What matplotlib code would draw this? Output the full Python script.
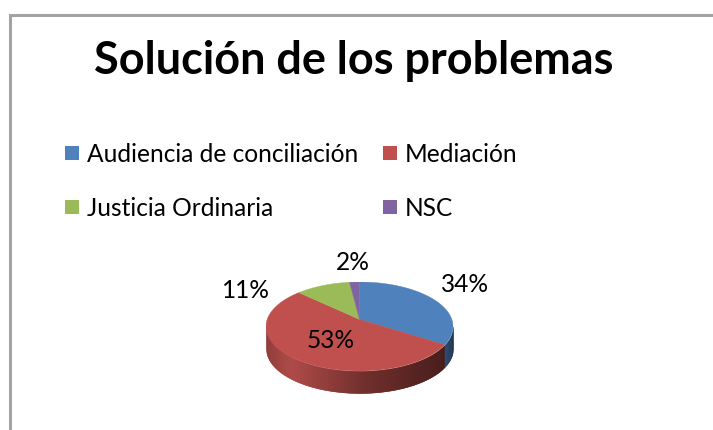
import numpy as np
import matplotlib
matplotlib.use('Agg')
import matplotlib.pyplot as plt
from matplotlib.patches import Rectangle
from matplotlib.colors import LinearSegmentedColormap

categories = ['Audiencia de conciliación', 'Mediación', 'Justicia Ordinaria', 'NSC']
values = [34, 53, 11, 2]
pct_labels = ['34%', '53%', '11%', '2%']
colors = ['#4f81bd', '#c0504d', '#9bbb59', '#8064a2']
title = 'Solución de los problemas'

W, H = 713, 430
plt.rcParams['font.family'] = ['Lato', 'DejaVu Sans']
fig = plt.figure(figsize=(W / 100, H / 100), dpi=100, facecolor='white')

# background layer in pixel coords, y goes down like in the picture
bg = fig.add_axes([0, 0, 1, 1])
bg.set_xlim(0, W)
bg.set_ylim(H, 0)
bg.axis('off')
bg.plot([9.5, 9.5, W], [H, 15, 15], color='#a3a3a3', lw=2.2, solid_joinstyle='miter')
bg.text(354, 60.5, title, fontsize=32.4, fontweight='bold', ha='center', va='center', color='black')

legend_pos = [(65, 153), (383, 153), (65, 207), (383, 207)]
for name, col, (lx, ly) in zip(categories, colors, legend_pos):
    bg.add_patch(Rectangle((lx, ly - 7), 14, 14, color=col, lw=0))
    bg.text(lx + 22, ly + 1.5, name, fontsize=17.65, ha='left', va='center', color='black')

# pie axes: unit circle squashed to the ellipse on the page
cx, cy, rx, ry = 359.5, 326.5, 93.5, 44.5
depth = 22 / ry
tilt = 0.16  # perspective, pushes the centre of the pie up


def persp(x, y):
    return x * np.sqrt(1 - tilt ** 2) / (1 + tilt * y), (y + tilt) / (1 + tilt * y)


ax = fig.add_axes([(cx - rx) / W, 1 - (cy + ry + 22) / H, 2 * rx / W, (2 * ry + 22) / H])
wedges, _ = ax.pie(values, colors=colors, startangle=90, counterclock=False, radius=1,
                   wedgeprops={'lw': 0})
ax.set_aspect('auto')
ax.set_xlim(-1, 1)
ax.set_ylim(-1 - depth, 1)

# redraw the slices through the perspective
for w, col in zip(wedges, colors):
    w.set_visible(False)
    th = np.radians(np.linspace(w.theta1, w.theta2, 80))
    px, py = persp(np.r_[0, np.cos(th)], np.r_[0, np.sin(th)])
    ax.fill(px, py, color=col, lw=0.3, zorder=3)

# side wall of the 3d pie, strips shaded left to right
red_side = LinearSegmentedColormap.from_list('r', [(0, '#8f3b39'), (0.14, '#ae4846'), (0.55, '#6e2c2a'), (1, '#451a18')])
blue_side = LinearSegmentedColormap.from_list('b', ['#2c4a6e', '#1f3550'])
th0 = np.radians(wedges[0].theta1)
edge = persp(np.cos(th0), np.sin(th0))[0]
xs = np.linspace(-1, 1, 375)
for a, b in zip(xs[:-1], xs[1:]):
    mid = (a + b) / 2
    yb = -np.sqrt(1 - np.array([a, b]) ** 2)
    col = red_side((mid + 1) / (1 + edge)) if mid < edge else blue_side((mid - edge) / (1 - edge))
    ax.fill_between([a, b], yb - depth, yb, color=col, lw=0.3, zorder=1)

label_pos = [(465.5, 284), (331, 341), (245, 291), (352.5, 262)]
for txt, (lx, ly) in zip(pct_labels, label_pos):
    bg.text(lx, ly, txt, fontsize=17.65, ha='center', va='center', color='black', zorder=5)
bg.set_zorder(5)
bg.patch.set_alpha(0)

fig.savefig('out.png', dpi=100)
